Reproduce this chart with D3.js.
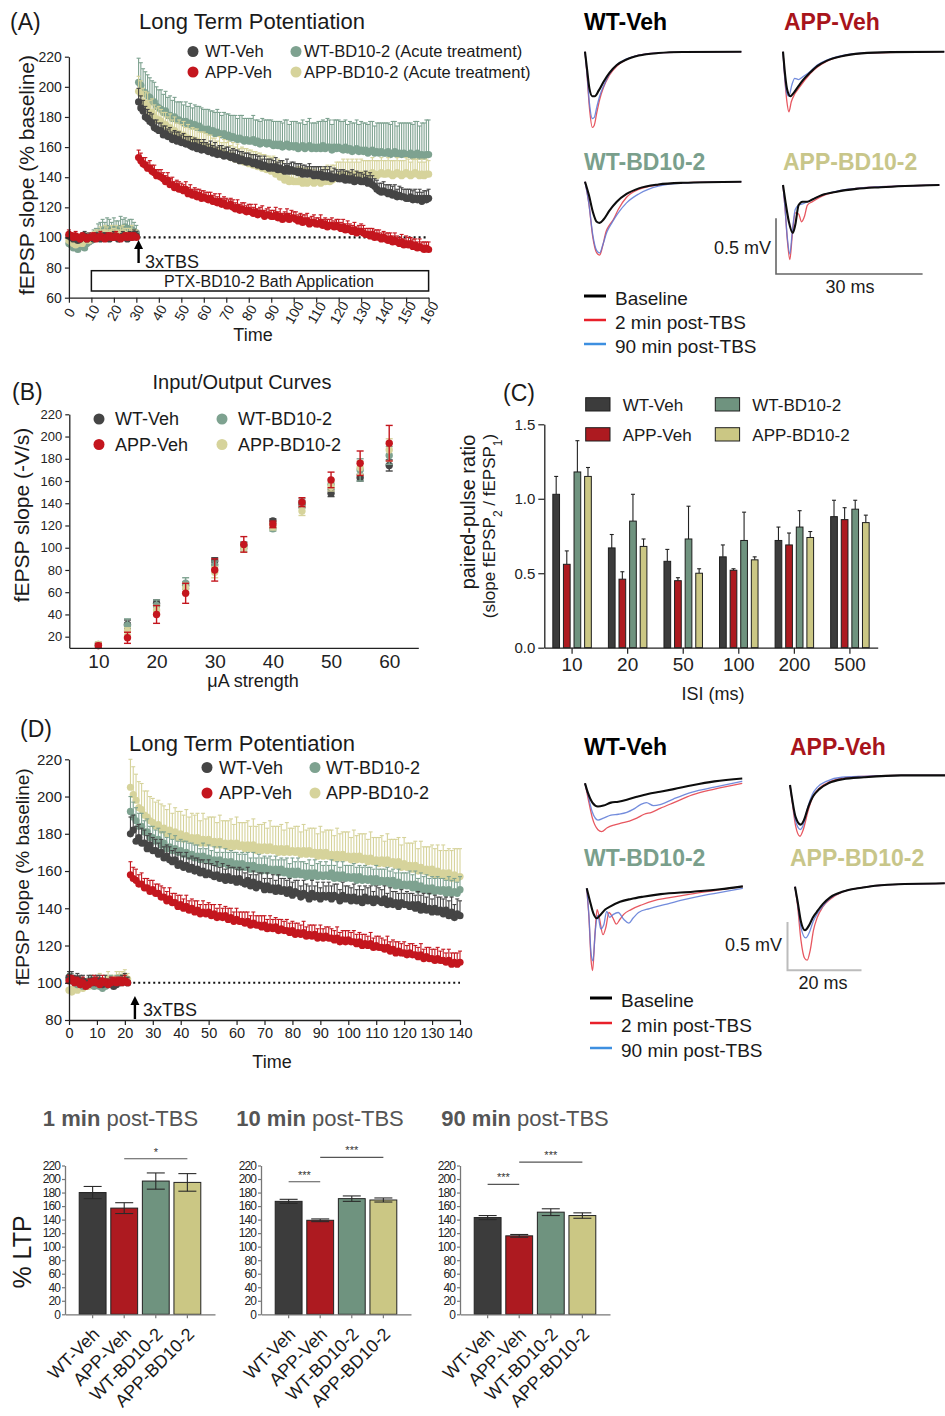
<!DOCTYPE html>
<html>
<head>
<meta charset="utf-8">
<script src="https://cdn.jsdelivr.net/npm/d3@7"></script>
<style>
  body { margin: 0; background: #fff; }
</style>
</head>
<body>
<svg id="fig" width="945" height="1416"></svg>
<script>
// ---------- data ----------
var groups = ["WT-Veh", "APP-Veh", "WT-BD10-2", "APP-BD10-2"];
var dotColors = ["#454545", "#c4161e", "#7ea290", "#d6d39b"];
var barColors = ["#3c3c3c", "#ad1a20", "#6f937f", "#cbc784"];

// (A) LTP, acute treatment, one point per minute
var timeA = d3.range(0, 161);
var ltpA_WTVeh = [101,100,99,100,98,99,100,101,99,100,100,99,101,100,99,100,101,100,99,100,101,100,99,100,101,100,99,101,100,102,101,
  190,186,184,180,179,177,176,173,172,171, 171,168,169,167,167,165,166,164,165,163, 163,162,162,161,160,161,159,160,158,159,
  158,157,158,156,157,155,156,155,154,155, 154,153,154,152,153,151,152,151,150,151, 150,149,150,148,149,147,148,147,146,147,
  146,147,145,146,145,144,146,144,145,144, 144,143,144,142,143,142,143,142,141,142, 141,142,140,141,140,141,139,140,140,139,
  139,140,138,139,138,139,137,138,138,137, 137,138,136,137,135,134,132,131,130,131, 130,129,130,128,129,127,128,127,127,126,
  126,127,125,126,125,126,124,126,125,126];
var ltpA_WTVehErr = [3,2,3,2,3,2,3,3,2,3,2,3,2,3,2,3,2,3,3,2,3,2,3,2,3,3,2,3,2,3,3,
  9,8,7,7,6,6,6,5,6,5, 5,6,5,5,6,5,5,6,5,5, 6,5,5,6,5,5,6,5,5,6, 5,5,6,5,6,5,5,6,5,5, 6,5,5,6,5,6,5,5,6,5,
  5,6,5,6,5,5,6,5,6,5, 5,6,5,5,6,5,6,5,5,6, 5,6,5,6,5,5,6,5,6,5, 6,5,5,6,5,6,5,6,5,5, 6,5,6,5,5,6,5,6,5,6,
  5,6,5,6,6,5,6,5,6,6, 5,6,5,6,6,5,6,6,5,6, 6,5,6,6,5,6,6,5,6,6];
var ltpA_APPVeh = [102,101,100,101,100,99,101,100,99,100,100,101,99,100,101,100,99,100,101,100,100,101,100,99,100,101,100,101,100,101,100,
  153,151,149,148,146,146,144,143,141,141, 140,139,137,138,135,135,133,134,132,132, 131,132,129,130,128,129,127,128,126,127,
  126,125,126,124,124,123,124,122,123,121, 121,122,120,119,120,118,119,118,117,118, 117,116,117,115,116,116,114,115,115,114,
  114,115,113,114,112,113,114,112,113,113, 112,111,112,110,111,111,109,110,110,109, 109,110,108,109,107,108,108,107,108,107,
  106,107,105,106,105,104,105,103,104,104, 103,102,102,101,102,100,101,100,99,100, 99,98,99,97,98,97,96,97,95,96,
  95,96,94,95,93,94,93,92,93,92];
var ltpA_APPVehErr = [3,2,3,3,2,3,2,2,3,2,3,2,3,2,3,2,2,3,2,3,2,3,2,3,2,2,3,2,3,2,2,
  5,5,4,5,4,5,4,5,4,4, 5,4,4,5,4,5,4,4,5,4, 4,5,4,5,4,4,5,4,5,4, 4,5,4,4,5,4,5,4,4,5, 4,4,5,4,5,4,4,5,4,4,
  5,4,5,4,4,5,4,4,5,4, 4,5,4,5,4,4,5,4,5,4, 5,4,4,5,4,5,4,4,5,4, 4,5,4,4,5,4,5,4,4,5, 4,5,4,5,4,4,5,4,4,5,
  5,4,4,5,4,5,4,5,4,4, 4,5,4,4,5,4,4,5,4,5, 5,4,5,4,4,5,4,5,4,5];
var ltpA_WTBD = [96,95,93,94,92,94,95,93,96,97,98,100,101,103,104,105,104,106,105,104,106,105,104,106,105,107,104,106,105,104,103,
  203,201,197,196,194,193,190,190,187,186, 185,183,184,181,181,179,180,178,178,177, 176,177,175,176,174,175,173,174,172,172,
  171,172,170,171,169,170,169,168,169,167, 168,166,167,166,165,166,165,164,165,164, 164,165,163,164,162,163,163,162,163,162,
  161,162,161,162,160,161,162,160,161,160, 161,159,160,161,159,160,161,159,160,159, 160,159,161,159,160,160,158,160,159,160,
  159,158,160,158,159,157,158,159,157,158, 157,158,156,157,158,156,157,156,157,156, 156,157,155,156,157,155,156,155,156,155,
  155,156,154,155,156,154,155,154,155,155];
var ltpA_WTBDErr = [4,4,4,4,5,4,4,5,4,4,4,5,5,6,6,7,6,7,7,6,7,6,7,8,7,6,7,6,7,6,5,
  16,15,15,14,14,13,14,13,13,12, 13,12,13,12,13,12,13,12,12,13, 12,13,12,13,12,13,14,13,14,13, 14,13,14,13,14,15,14,13,14,15,
  14,15,14,15,14,15,16,15,14,15, 15,16,15,14,15,16,15,16,15,16, 16,15,16,15,16,17,16,15,16,17, 16,17,16,17,16,17,18,17,16,17,
  17,18,17,18,19,18,17,18,19,18, 18,19,18,17,18,19,18,19,18,19, 19,18,19,20,19,18,19,20,19,20, 20,19,20,21,20,19,20,21,20,21,
  21,20,21,22,21,20,21,22,23,23];
var ltpA_APPBD = [98,97,96,95,96,97,96,98,99,98,99,100,100,101,102,101,103,102,101,103,102,103,101,102,103,102,101,102,103,101,101,
  197,195,190,189,187,183,183,180,178,178, 177,174,175,172,173,170,171,168,169,167, 168,165,166,164,165,163,164,161,162,161,
  161,159,160,157,158,156,158,155,156,155, 155,153,154,152,153,151,152,150,151,149, 150,148,149,147,148,146,147,145,146,144,
  145,142,143,140,141,138,139,137,138,137, 137,137,138,136,137,136,137,137,136,137, 137,136,137,137,138,137,138,139,140,141,
  141,142,141,142,141,142,141,142,141,142, 141,142,141,142,143,142,141,142,143,142, 142,143,142,141,142,143,142,141,142,143,
  142,141,142,143,142,141,142,141,142,142];
var ltpA_APPBDErr = [4,3,4,4,3,4,3,4,4,3,4,4,5,4,5,4,5,5,4,5,4,5,4,5,5,4,5,4,5,4,4,
  10,9,9,8,9,8,9,8,8,9, 8,9,8,8,9,8,9,8,9,8, 9,8,9,8,8,9,8,9,8,9, 8,9,8,9,8,8,9,8,9,8, 9,8,9,8,9,8,8,9,8,9,
  8,9,8,9,8,9,8,9,8,9, 9,8,9,8,9,9,8,9,8,9, 9,10,9,10,9,10,9,10,9,10, 10,9,10,9,10,9,10,9,10,9, 9,10,9,10,9,10,9,10,9,10,
  10,9,10,9,10,9,10,9,10,9, 9,10,9,10,9,10,9,10,9,10, 10,9,10,9,10,9,10,9,10,9];

// (B) input/output curves
var ioCurrent = [10,15,20,25,30,35,40,45,50,55,60];
var io_WTVeh = [12,31,50,66,88,102,124,139,149,163,174];
var io_WTVehErr = [2,4,3,3,3,3,2,3,3,3,5];
var io_APPVeh = [12,19,40,59,80,103,121,141,161,176,194];
var io_APPVehErr = [2,5,8,9,10,7,3,4,7,11,16];
var io_WTBD = [13,30,48,68,84,101,117,140,157,170,183];
var io_WTBDErr = [2,6,5,5,4,4,2,4,4,10,8];
var io_APPBD = [13,25,44,64,78,100,119,133,155,172,188];
var io_APPBDErr = [2,3,4,4,5,4,3,4,4,6,10];

// (C) paired-pulse ratio
var isi = ["10","20","50","100","200","500"];
var ppr_WTVeh = [1.03,0.67,0.58,0.61,0.72,0.88];
var ppr_WTVehErr = [0.12,0.09,0.08,0.08,0.09,0.11];
var ppr_APPVeh = [0.56,0.46,0.45,0.52,0.69,0.86];
var ppr_APPVehErr = [0.09,0.05,0.02,0.01,0.08,0.08];
var ppr_WTBD = [1.18,0.85,0.73,0.72,0.81,0.93];
var ppr_WTBDErr = [0.21,0.18,0.22,0.19,0.11,0.06];
var ppr_APPBD = [1.15,0.68,0.50,0.59,0.74,0.84];
var ppr_APPBDErr = [0.06,0.05,0.03,0.02,0.04,0.05];

// (D) LTP, chronic treatment
var timeD = d3.range(0, 141);
var ltpD_WTVeh = [103,102,101,102,100,101,99,100,101,100,100,101,99,100,99,100,98,99,100,101,101,100,
  180,182,176,178,175,175,172,174,171,171, 169,170,167,168,166,165,166,163,164,162, 163,161,162,160,161,159,160,158,159,158,
  157,158,156,157,155,157,155,156,154,156, 154,153,155,152,154,151,153,152,150,152, 150,151,149,151,149,150,148,150,147,149,
  148,146,148,147,145,148,146,147,145,147, 146,147,145,147,146,144,147,145,146,144, 146,144,145,143,146,144,145,143,145,144,
  143,145,142,144,142,143,141,143,142,142, 141,142,140,142,139,141,139,140,138,140, 138,139,137,139,136,138,135,137,136];
var ltpD_WTVehErr = [3,4,3,3,4,3,3,4,3,3,4,3,3,4,3,3,4,3,3,3,4,3,
  9,8,8,7,8,7,7,6,7,6, 6,7,6,6,7,6,6,7,6,6, 7,6,6,7,6,7,6,6,7,6, 6,7,6,7,6,6,7,6,7,6, 7,6,7,6,6,7,6,7,6,7,
  6,7,6,7,7,6,7,6,7,6, 7,6,7,6,7,7,6,7,6,7, 6,7,7,6,7,6,7,7,6,7, 7,6,7,7,6,7,7,6,7,7, 7,7,6,7,7,6,7,7,6,7,
  7,6,7,7,8,7,7,8,7,7, 8,7,8,7,8,8,7,8,8];
var ltpD_APPVeh = [101,102,100,101,99,100,98,99,100,101,100,99,101,100,99,100,101,100,101,100,101,100,
  158,156,155,153,153,151,151,149,150,148, 148,146,146,144,145,143,143,141,142,140, 141,139,140,138,139,137,138,137,138,136,
  137,135,136,135,136,134,135,133,134,133, 133,132,133,131,132,131,131,130,131,129, 130,129,130,128,129,128,128,127,128,126,
  127,126,127,125,126,125,126,124,125,124, 125,124,124,123,124,122,123,122,123,122, 122,121,122,120,121,120,121,119,120,119,
  119,118,119,117,118,116,117,116,116,115, 116,115,115,114,115,113,114,113,113,112, 113,112,112,111,112,110,111,110,111];
var ltpD_APPVehErr = [3,2,3,2,3,3,2,3,2,3,3,2,3,2,3,3,2,3,2,3,3,2,
  7,6,6,5,6,5,5,6,5,5, 5,6,5,5,6,5,5,6,5,5, 6,5,5,6,5,5,6,5,5,6, 5,5,6,5,5,6,5,5,6,5, 5,6,5,5,6,5,5,6,5,5,
  6,5,5,6,5,5,6,5,5,6, 5,5,6,5,5,6,5,5,6,5, 5,6,5,5,6,5,5,6,5,5, 6,5,5,6,5,5,6,5,5,6, 5,5,6,5,5,6,5,5,6,5,
  5,6,5,5,6,5,5,6,5,6, 6,5,6,5,6,6,5,6,6];
var ltpD_WTBD = [102,101,100,99,100,98,99,100,99,98,99,98,97,98,99,100,99,100,101,100,101,100,
  192,189,187,184,184,181,181,178,178,176, 177,174,175,172,173,171,172,170,171,169, 170,168,169,167,168,166,168,166,167,165,
  166,164,166,164,165,163,165,163,164,162, 164,162,163,161,163,161,162,160,162,160, 161,160,161,159,161,159,160,158,160,158,
  160,158,159,157,159,157,159,157,158,157, 158,157,159,156,158,156,158,156,157,156, 157,155,157,155,156,155,156,154,156,154,
  155,154,155,153,155,152,154,152,153,152, 153,151,153,150,152,150,151,149,151,149, 150,149,150,148,150,148,149,148,150];
var ltpD_WTBDErr = [3,4,3,4,3,4,3,3,4,3,4,3,4,3,3,4,3,4,3,4,4,3,
  8,8,7,7,7,6,7,6,6,6, 6,7,6,6,7,6,7,6,6,7, 6,7,6,7,6,6,7,6,7,6, 7,6,7,6,7,7,6,7,6,7, 6,7,7,6,7,6,7,7,6,7,
  7,6,7,7,6,7,7,6,7,7, 7,7,6,7,7,6,7,7,7,6, 7,6,7,7,7,6,7,7,6,7, 7,7,6,7,7,7,6,7,7,7, 6,7,7,7,6,7,7,7,6,7,
  7,7,7,6,7,7,7,7,6,7, 7,7,6,7,7,7,7,6,7];
var ltpD_APPBD = [96,95,97,96,98,97,99,98,100,99,100,101,99,100,102,101,100,102,103,102,103,102,
  205,201,198,194,193,190,189,187,186,184, 185,182,183,180,182,179,181,178,180,177, 179,177,178,176,178,175,177,175,177,175,
  176,174,176,174,175,173,175,173,175,173, 174,172,174,172,174,171,173,171,173,171, 173,171,172,170,172,170,172,170,171,170,
  171,169,171,169,171,169,170,168,170,168, 170,168,169,167,169,167,169,167,168,166, 168,166,168,166,167,165,167,165,166,164,
  166,164,166,164,165,163,165,162,164,162, 163,161,163,160,162,160,161,159,161,158, 160,158,159,157,159,156,158,156,157];
var ltpD_APPBDErr = [4,3,4,4,3,4,3,4,4,3,4,4,3,4,4,3,4,4,3,4,4,3,
  15,15,14,14,14,13,14,13,13,13, 13,14,12,13,14,12,13,14,12,13, 14,12,13,14,13,12,14,13,12,14, 13,12,14,13,12,14,13,12,14,13,
  12,14,13,12,14,13,12,14,13,12, 14,13,12,14,13,12,14,13,12,14, 13,12,14,13,12,14,13,12,14,13, 12,14,13,12,14,13,12,14,13,12,
  14,13,12,14,13,12,14,13,12,14, 13,12,14,13,12,14,13,12,14,13, 12,14,13,12,14,13,12,14,13,14, 14,13,15,14,13,15,14,16,15];

// bottom: % LTP at 1, 10 and 90 min post-TBS
var ltp1min = [180,157,197,195];
var ltp1minErr = [9,8,12,13];
var ltp10min = [167,139,171,169];
var ltp10minErr = [3,2,4,3];
var ltp90min = [143,116,151,146];
var ltp90minErr = [3,2,5,4];

// representative fEPSP traces, [ms, mV]
var trA_WTVeh = {
  base: [[0,0],[0.4,-0.15],[0.9,-0.33],[1.5,-0.40],[2.0,-0.40],[2.8,-0.35],[3.8,-0.27],[5,-0.19],[6.5,-0.12],[8.5,-0.07],[11,-0.035],[15,-0.012],[20,-0.003],[32,0]],
  red:  [[0,0],[0.4,-0.2],[0.9,-0.5],[1.5,-0.68],[1.9,-0.66],[2.4,-0.55],[3.0,-0.43],[3.8,-0.32],[5,-0.21],[6.5,-0.13],[8.5,-0.07],[11,-0.03],[15,-0.01],[32,0]],
  blue: [[0,0],[0.4,-0.19],[0.9,-0.46],[1.5,-0.60],[1.9,-0.59],[2.4,-0.50],[3.0,-0.40],[3.8,-0.31],[5,-0.20],[6.5,-0.12],[8.5,-0.065],[11,-0.03],[15,-0.01],[32,0]]
};
var trA_APPVeh = {
  base: [[0,0],[0.3,-0.15],[0.8,-0.33],[1.5,-0.40],[2.2,-0.37],[3,-0.32],[4,-0.26],[5.5,-0.19],[7,-0.13],[9,-0.08],[12,-0.04],[16,-0.015],[22,-0.004],[33,0]],
  red:  [[0,0],[0.3,-0.2],[0.8,-0.45],[1.2,-0.54],[1.7,-0.45],[2.4,-0.38],[3.2,-0.33],[4.2,-0.27],[5.5,-0.2],[7,-0.14],[9,-0.085],[12,-0.04],[16,-0.015],[33,0]],
  blue: [[0,0],[0.3,-0.2],[0.8,-0.38],[1.2,-0.40],[1.8,-0.30],[2.4,-0.24],[3.2,-0.25],[4.2,-0.22],[5.5,-0.18],[7,-0.12],[9,-0.075],[12,-0.035],[16,-0.012],[33,0]]
};
var trA_WTBD = {
  base: [[0,0],[0.8,-0.12],[1.6,-0.27],[2.4,-0.36],[3.0,-0.37],[3.8,-0.34],[5,-0.26],[6.5,-0.18],[8.5,-0.11],[11,-0.06],[15,-0.025],[20,-0.01],[32,0]],
  red:  [[0,0],[0.8,-0.2],[1.6,-0.5],[2.4,-0.64],[3.0,-0.66],[3.6,-0.58],[4.3,-0.45],[5,-0.39],[5.8,-0.34],[6.8,-0.25],[8.5,-0.14],[11,-0.07],[15,-0.03],[20,-0.01],[32,0]],
  blue: [[0,0],[0.8,-0.2],[1.6,-0.48],[2.4,-0.62],[3.0,-0.64],[3.7,-0.56],[4.5,-0.45],[5.5,-0.37],[6.8,-0.28],[8.5,-0.19],[11,-0.11],[15,-0.04],[20,-0.012],[32,0]]
};
var trA_APPBD = {
  base: [[0,0],[0.5,-0.15],[1.2,-0.33],[2.0,-0.43],[2.5,-0.36],[3.2,-0.18],[4,-0.15],[5,-0.15],[6,-0.13],[8,-0.09],[11,-0.06],[15,-0.035],[20,-0.02],[32,0]],
  red:  [[0,0],[0.4,-0.2],[0.9,-0.5],[1.4,-0.67],[1.9,-0.45],[2.5,-0.25],[3.2,-0.26],[3.8,-0.33],[4.4,-0.28],[5,-0.18],[6,-0.15],[8,-0.10],[11,-0.06],[15,-0.03],[32,0]],
  blue: [[0,0],[0.4,-0.2],[0.9,-0.48],[1.4,-0.62],[1.9,-0.42],[2.5,-0.22],[3.2,-0.18],[4,-0.17],[5,-0.15],[6,-0.13],[8,-0.09],[11,-0.055],[15,-0.03],[32,0]]
};
var trD_WTVeh = {
  base: [[0,0],[0.8,-0.1],[2,-0.2],[3.5,-0.24],[5,-0.23],[7,-0.2],[9,-0.19],[11.3,-0.17],[14,-0.14],[17,-0.11],[20.3,-0.087],[24,-0.06],[29,-0.02],[35,0.02],[42.5,0.05]],
  red:  [[0,0],[0.8,-0.15],[2,-0.36],[3.5,-0.48],[4.5,-0.5],[6,-0.46],[8,-0.43],[10,-0.41],[12,-0.39],[14,-0.36],[16,-0.32],[18,-0.30],[20.3,-0.26],[24,-0.2],[29,-0.12],[35,-0.06],[42.5,0.0]],
  blue: [[0,0],[0.8,-0.12],[2,-0.3],[3.5,-0.38],[5,-0.36],[7,-0.33],[9,-0.32],[11.3,-0.30],[13,-0.27],[15,-0.22],[16.6,-0.2],[18.5,-0.23],[20.3,-0.22],[24,-0.16],[29,-0.09],[35,-0.04],[42.5,0.02]]
};
var trD_APPVeh = {
  base: [[0,0],[0.6,-0.15],[1.5,-0.33],[2.9,-0.41],[3.8,-0.36],[5,-0.22],[6.2,-0.12],[8,-0.04],[10.5,0.02],[14.3,0.06],[20,0.08],[30,0.1],[41.9,0.1]],
  red:  [[0,0],[0.6,-0.18],[1.5,-0.42],[2.7,-0.53],[3.6,-0.46],[4.8,-0.28],[6.2,-0.12],[8,-0.03],[10.5,0.03],[14.3,0.07],[20,0.09],[30,0.1],[41.9,0.1]],
  blue: [[0,0],[0.6,-0.16],[1.5,-0.37],[2.8,-0.46],[3.7,-0.40],[4.8,-0.23],[6,-0.1],[7.5,-0.02],[10,0.04],[14,0.08],[20,0.09],[30,0.1],[41.9,0.1]]
};
var trD_WTBD = {
  base: [[0,0],[0.8,-0.12],[1.8,-0.26],[2.7,-0.31],[3.8,-0.27],[5,-0.22],[6.3,-0.19],[9,-0.14],[12,-0.11],[15.2,-0.087],[20,-0.06],[28.7,-0.035],[36,-0.01],[42.2,0.02]],
  red:  [[0,0],[0.6,-0.3],[1.2,-0.75],[1.6,-0.85],[2.2,-0.5],[2.8,-0.22],[3.4,-0.30],[4.4,-0.48],[5.2,-0.40],[6,-0.25],[7,-0.30],[8,-0.37],[9,-0.32],[10,-0.27],[12,-0.22],[15,-0.17],[18,-0.13],[22,-0.1],[28,-0.06],[35,-0.02],[42.2,0.02]],
  blue: [[0,0],[0.6,-0.28],[1.2,-0.68],[1.7,-0.75],[2.3,-0.45],[3,-0.28],[3.8,-0.42],[4.6,-0.38],[5.4,-0.24],[6.2,-0.3],[7.2,-0.27],[8.5,-0.25],[10,-0.32],[11.4,-0.36],[12.5,-0.31],[14,-0.25],[17,-0.21],[21,-0.17],[26,-0.12],[32,-0.07],[38,-0.03],[42.2,0.0]]
};
var trD_APPBD = {
  base: [[0,0],[0.7,-0.15],[1.6,-0.36],[2.7,-0.45],[3.8,-0.40],[4.8,-0.32],[5.9,-0.26],[7.5,-0.18],[9.5,-0.11],[13,-0.05],[18,-0.01],[25,0.02],[40.5,0.035]],
  red:  [[0,0],[0.7,-0.2],[1.6,-0.55],[2.6,-0.74],[3.3,-0.76],[4.1,-0.66],[5,-0.45],[6,-0.32],[7.5,-0.21],[9.5,-0.13],[13,-0.05],[18,-0.01],[25,0.02],[40.5,0.035]],
  blue: [[0,0],[0.7,-0.17],[1.6,-0.42],[2.9,-0.53],[3.9,-0.47],[4.9,-0.36],[6,-0.28],[7.5,-0.2],[9.5,-0.12],[13,-0.05],[18,-0.01],[25,0.02],[40.5,0.035]]
};
var traceLegend = ["Baseline", "2 min post-TBS", "90 min post-TBS"];

// ---------- helpers ----------
var FONT = "'Liberation Sans', Arial, Helvetica, sans-serif";
var svg = d3.select("#fig");

function label(x, y, s, size, o) {
  o = o || {};
  var t = svg.append("text")
    .attr("x", x).attr("y", y).attr("dy", "0.35em")
    .attr("font-size", size).attr("font-family", FONT)
    .attr("text-anchor", o.anchor || "start")
    .attr("fill", o.fill || "#1a1a1a")
    .text(s);
  if (o.bold) t.attr("font-weight", "bold");
  if (o.rotate) t.attr("transform", "rotate(" + o.rotate + "," + x + "," + y + ")");
  return t;
}

function styleAxis(g, fs) {
  g.attr("font-family", FONT).attr("font-size", fs);
  g.select(".domain").attr("stroke", "#222").attr("stroke-width", 1.3);
  g.selectAll(".tick line").attr("stroke", "#222").attr("stroke-width", 1.2);
  g.selectAll(".tick text").attr("fill", "#222");
}

function drawLtp(p) {
  var x = d3.scaleLinear().domain(p.xDomain).range(p.xRange);
  var y = d3.scaleLinear().domain(p.yDomain).range(p.yRange);
  var g = svg.append("g");
  g.append("line")
    .attr("x1", x(p.refFrom)).attr("x2", x(p.xDomain[1]))
    .attr("y1", y(100)).attr("y2", y(100))
    .attr("stroke", "#111").attr("stroke-width", 2.2).attr("stroke-dasharray", "2,3");

  p.series.forEach(function(s) {
    var pts = s.mean.map(function(v, i) { return {t: p.time[i], v: v, e: s.err[i]}; });
    var sg = g.append("g");
    sg.selectAll(".eb").data(pts).enter().append("line")
      .attr("x1", function(d) { return x(d.t); })
      .attr("x2", function(d) { return x(d.t); })
      .attr("y1", function(d) { return y(d.v); })
      .attr("y2", function(d) { return y(d.v + d.e); })
      .attr("stroke", s.color).attr("stroke-width", 1.1);
    sg.selectAll(".cap").data(pts).enter().append("line")
      .attr("x1", function(d) { return x(d.t) - 2; })
      .attr("x2", function(d) { return x(d.t) + 2; })
      .attr("y1", function(d) { return y(d.v + d.e); })
      .attr("y2", function(d) { return y(d.v + d.e); })
      .attr("stroke", s.color).attr("stroke-width", 1.1);
    sg.selectAll("circle").data(pts).enter().append("circle")
      .attr("cx", function(d) { return x(d.t); })
      .attr("cy", function(d) { return y(d.v); })
      .attr("r", 3.6)
      .attr("fill", s.color);
  });

  var ya = g.append("g").attr("transform", "translate(" + p.xRange[0] + ",0)")
    .call(d3.axisLeft(y).tickValues(p.yTicks).tickSize(4).tickSizeOuter(0));
  styleAxis(ya, p.yFont);
  var xa = g.append("g").attr("transform", "translate(0," + p.yRange[0] + ")")
    .call(d3.axisBottom(x).tickValues(p.xTicks).tickSize(5).tickSizeOuter(0));
  styleAxis(xa, p.xFont);
  if (p.rotateX) {
    xa.selectAll(".tick text")
      .attr("y", 0).attr("dy", "0.35em")
      .attr("text-anchor", "middle")
      .attr("transform", "translate(0,15) rotate(-60)");
  }
  return {x: x, y: y};
}

function drawArrow(x, yBase, yTip) {
  svg.append("line").attr("x1", x).attr("x2", x).attr("y1", yBase).attr("y2", yTip + 6)
    .attr("stroke", "#000").attr("stroke-width", 2.4);
  svg.append("path")
    .attr("d", "M" + (x - 4.5) + "," + (yTip + 9) + "L" + x + "," + yTip + "L" + (x + 4.5) + "," + (yTip + 9) + "Z")
    .attr("fill", "#000");
}

function drawTrace(ox, oy, pxMs, pxMv, tr) {
  var x = d3.scaleLinear().domain([0, 1]).range([ox, ox + pxMs]);
  var y = d3.scaleLinear().domain([0, 1]).range([oy, oy - pxMv]);
  var line = d3.line()
    .x(function(d) { return x(d[0]); })
    .y(function(d) { return y(d[1]); })
    .curve(d3.curveMonotoneX);
  [["red", "#e33a44", 1.3, 0.85], ["blue", "#5b78d6", 1.3, 0.85], ["base", "#0d0d0d", 2.1, 1]].forEach(function(c) {
    svg.append("path").attr("d", line(tr[c[0]]))
      .attr("fill", "none").attr("stroke", c[1]).attr("stroke-width", c[2])
      .attr("stroke-opacity", c[3]).attr("stroke-linejoin", "round");
  });
}

function traceLegendBlock(x0, y0, dy, fs) {
  var cols = ["#000", "#e8202a", "#3d8fe0"];
  traceLegend.forEach(function(s, i) {
    svg.append("line").attr("x1", x0).attr("x2", x0 + 22)
      .attr("y1", y0 + i * dy).attr("y2", y0 + i * dy)
      .attr("stroke", cols[i]).attr("stroke-width", i === 0 ? 3 : 2.5);
    label(x0 + 31, y0 + i * dy + 2, s, fs);
  });
}

function dotLegend(items, fs, r) {
  items.forEach(function(it) {
    svg.append("circle").attr("cx", it[0]).attr("cy", it[1]).attr("r", r).attr("fill", it[3]);
    label(it[0] + it[4], it[1], it[2], fs);
  });
}

// ---------- (A) ----------
label(10, 22, "(A)", 23);
label(252, 21, "Long Term Potentiation", 22, {anchor: "middle"});
var pA = drawLtp({
  time: timeA, xDomain: [0, 160], xRange: [68.9, 428.6], yDomain: [60, 220], yRange: [297.7, 56.7],
  yTicks: d3.range(60, 221, 20), xTicks: d3.range(0, 161, 10), yFont: 14, xFont: 14, rotateX: true, refFrom: 31,
  series: [
    {mean: ltpA_WTBD, err: ltpA_WTBDErr, color: dotColors[2]},
    {mean: ltpA_APPBD, err: ltpA_APPBDErr, color: dotColors[3]},
    {mean: ltpA_WTVeh, err: ltpA_WTVehErr, color: dotColors[0]},
    {mean: ltpA_APPVeh, err: ltpA_APPVehErr, color: dotColors[1]}
  ]
});
svg.append("rect")
  .attr("x", pA.x(10)).attr("y", 270.7).attr("width", pA.x(160) - pA.x(10)).attr("height", 20.3)
  .attr("fill", "none").attr("stroke", "#111").attr("stroke-width", 1.5);
label(269, 281.5, "PTX-BD10-2 Bath Application", 16, {anchor: "middle"});
drawArrow(pA.x(31), 263, 240);
label(145, 262, "3xTBS", 18);
label(253, 335, "Time", 18, {anchor: "middle"});
label(27, 175, "fEPSP slope (% baseline)", 21, {anchor: "middle", rotate: -90});
dotLegend([
  [193, 51.5, "WT-Veh", dotColors[0], 12],
  [193, 72, "APP-Veh", dotColors[1], 12],
  [296, 51.5, "WT-BD10-2 (Acute treatment)", dotColors[2], 8],
  [296, 72, "APP-BD10-2 (Acute treatment)", dotColors[3], 8]
], 16.5, 5.5);

// traces for (A)
label(584, 21.5, "WT-Veh", 23, {bold: true, fill: "#000"});
label(784, 21.5, "APP-Veh", 23, {bold: true, fill: "#a8141b"});
label(584, 161.5, "WT-BD10-2", 23, {bold: true, fill: "#7a9f8c"});
label(783, 161.5, "APP-BD10-2", 23, {bold: true, fill: "#c8c68a"});
drawTrace(585, 51.7, 4.887, 111.3, trA_WTVeh);
drawTrace(783, 51.7, 4.887, 111.3, trA_APPVeh);
drawTrace(585, 181.7, 4.887, 111.3, trA_WTBD);
drawTrace(783, 185, 4.887, 111.3, trA_APPBD);
svg.append("path").attr("d", "M776,218.3V274H922.6")
  .attr("fill", "none").attr("stroke", "#666").attr("stroke-width", 1.6);
label(771, 248, "0.5 mV", 18, {anchor: "end"});
label(850, 287, "30 ms", 18, {anchor: "middle"});
traceLegendBlock(584, 296, 24, 19);

// ---------- (B) ----------
label(12, 392, "(B)", 23);
label(242, 382, "Input/Output Curves", 20, {anchor: "middle"});
(function() {
  var x = d3.scaleLinear().domain([5, 65]).range([69.3, 418.3]);
  var y = d3.scaleLinear().domain([10, 220]).range([647.8, 414.3]);
  var g = svg.append("g");
  var sets = [
    {m: io_WTVeh, e: io_WTVehErr, c: dotColors[0]},
    {m: io_WTBD, e: io_WTBDErr, c: dotColors[2]},
    {m: io_APPBD, e: io_APPBDErr, c: dotColors[3]},
    {m: io_APPVeh, e: io_APPVehErr, c: dotColors[1]}
  ];
  sets.forEach(function(s) {
    var pts = s.m.map(function(v, i) { return {x: ioCurrent[i], v: v, e: s.e[i]}; });
    var sg = g.append("g").attr("stroke", s.c).attr("stroke-width", 1.4);
    sg.selectAll(".eb").data(pts).enter().append("line")
      .attr("x1", function(d) { return x(d.x); }).attr("x2", function(d) { return x(d.x); })
      .attr("y1", function(d) { return y(d.v - d.e); }).attr("y2", function(d) { return y(d.v + d.e); });
    [-1, 1].forEach(function(sgn) {
      sg.selectAll(".cap" + sgn).data(pts).enter().append("line")
        .attr("x1", function(d) { return x(d.x) - 3.5; }).attr("x2", function(d) { return x(d.x) + 3.5; })
        .attr("y1", function(d) { return y(d.v + sgn * d.e); }).attr("y2", function(d) { return y(d.v + sgn * d.e); });
    });
    g.append("g").selectAll("circle").data(pts).enter().append("circle")
      .attr("cx", function(d) { return x(d.x); }).attr("cy", function(d) { return y(d.v); })
      .attr("r", 3.7).attr("fill", s.c);
  });
  var ya = g.append("g").attr("transform", "translate(69.3,0)")
    .call(d3.axisLeft(y).tickValues(d3.range(20, 221, 20)).tickSize(4).tickSizeOuter(0));
  styleAxis(ya, 13);
  var xa = g.append("g").attr("transform", "translate(0,647.8)")
    .call(d3.axisBottom(x).tickValues(d3.range(10, 61, 10)).tickSize(0).tickPadding(7).tickSizeOuter(0));
  styleAxis(xa, 19);
})();
label(253, 681, "μA strength", 18, {anchor: "middle"});
label(22, 515, "fEPSP slope (-V/s)", 21, {anchor: "middle", rotate: -90});
dotLegend([
  [99, 419, "WT-Veh", dotColors[0], 16],
  [99, 444.5, "APP-Veh", dotColors[1], 16],
  [222, 419, "WT-BD10-2", dotColors[2], 16],
  [222, 444.5, "APP-BD10-2", dotColors[3], 16]
], 18, 5.5);

// ---------- (C) ----------
label(503, 393, "(C)", 23);
(function() {
  var x = d3.scaleBand().domain(isi).range([544.3, 877.7]);
  var xs = d3.scaleBand().domain(groups).range([-19.25, 19.25]).paddingInner(0.368);
  var y = d3.scaleLinear().domain([0, 1.5]).range([647.7, 424.3]);
  var g = svg.append("g");
  var sets = [
    {m: ppr_WTVeh, e: ppr_WTVehErr},
    {m: ppr_APPVeh, e: ppr_APPVehErr},
    {m: ppr_WTBD, e: ppr_WTBDErr},
    {m: ppr_APPBD, e: ppr_APPBDErr}
  ];
  sets.forEach(function(s, gi) {
    var pts = s.m.map(function(v, i) {
      return {cx: x(isi[i]) + x.bandwidth() / 2 + xs(groups[gi]) + xs.bandwidth() / 2, v: v, e: s.e[i]};
    });
    g.append("g").selectAll("line").data(pts).enter().append("line")
      .attr("x1", function(d) { return d.cx; }).attr("x2", function(d) { return d.cx; })
      .attr("y1", function(d) { return y(d.v); }).attr("y2", function(d) { return y(d.v + d.e); })
      .attr("stroke", "#222").attr("stroke-width", 1.1);
    g.append("g").selectAll("line").data(pts).enter().append("line")
      .attr("x1", function(d) { return d.cx - 2; }).attr("x2", function(d) { return d.cx + 2; })
      .attr("y1", function(d) { return y(d.v + d.e); }).attr("y2", function(d) { return y(d.v + d.e); })
      .attr("stroke", "#222").attr("stroke-width", 1.1);
    g.append("g").selectAll("rect").data(pts).enter().append("rect")
      .attr("x", function(d) { return d.cx - xs.bandwidth() / 2; })
      .attr("width", xs.bandwidth())
      .attr("y", function(d) { return y(d.v); })
      .attr("height", function(d) { return y(0) - y(d.v); })
      .attr("fill", barColors[gi]).attr("stroke", "#1e1e1e").attr("stroke-width", 1);
  });
  var ya = g.append("g").attr("transform", "translate(544.3,0)")
    .call(d3.axisLeft(y).tickValues([0, 0.5, 1.0, 1.5]).tickFormat(d3.format(".1f")).tickSize(6).tickSizeOuter(0));
  styleAxis(ya, 15);
  var xa = g.append("g").attr("transform", "translate(0,647.7)")
    .call(d3.axisBottom(x).tickSize(6).tickPadding(4).tickSizeOuter(0));
  styleAxis(xa, 19);
  var leg = [[585.7, 397.7, 0], [585.7, 427.7, 1], [715.3, 397.7, 2], [715.3, 427.7, 3]];
  leg.forEach(function(l) {
    svg.append("rect").attr("x", l[0]).attr("y", l[1]).attr("width", 24.3).attr("height", 13.3)
      .attr("fill", barColors[l[2]]).attr("stroke", "#1e1e1e").attr("stroke-width", 1);
    label(l[0] + 37, l[1] + 7, groups[l[2]], 17);
  });
})();
label(713, 694, "ISI (ms)", 18, {anchor: "middle"});
label(468, 512, "paired-pulse ratio", 20, {anchor: "middle", rotate: -90});
(function() {
  var t = svg.append("text").attr("x", 489).attr("y", 526).attr("dy", "0.35em")
    .attr("font-size", 17).attr("font-family", FONT).attr("text-anchor", "middle").attr("fill", "#1a1a1a")
    .attr("transform", "rotate(-90,489,526)");
  t.append("tspan").text("(slope fEPSP");
  t.append("tspan").attr("baseline-shift", "sub").attr("font-size", 12).text("2");
  t.append("tspan").text(" / fEPSP");
  t.append("tspan").attr("baseline-shift", "sub").attr("font-size", 12).text("1");
  t.append("tspan").text(")");
})();

// ---------- (D) ----------
label(20, 729, "(D)", 23);
label(242, 743, "Long Term Potentiation", 22, {anchor: "middle"});
var pD = drawLtp({
  time: timeD, xDomain: [0, 140], xRange: [69, 460], yDomain: [80, 220], yRange: [1020, 759.3],
  yTicks: d3.range(80, 221, 20), xTicks: d3.range(0, 141, 10), yFont: 15, xFont: 14.5, rotateX: false, refFrom: 23,
  series: [
    {mean: ltpD_APPBD, err: ltpD_APPBDErr, color: dotColors[3]},
    {mean: ltpD_WTBD, err: ltpD_WTBDErr, color: dotColors[2]},
    {mean: ltpD_WTVeh, err: ltpD_WTVehErr, color: dotColors[0]},
    {mean: ltpD_APPVeh, err: ltpD_APPVehErr, color: dotColors[1]}
  ]
});
drawArrow(pD.x(23.6), 1019, 996);
label(143, 1010, "3xTBS", 18);
label(272, 1062, "Time", 18, {anchor: "middle"});
label(22, 877, "fEPSP slope (% baseline)", 19, {anchor: "middle", rotate: -90});
dotLegend([
  [207, 767.5, "WT-Veh", dotColors[0], 12],
  [207, 793, "APP-Veh", dotColors[1], 12],
  [315, 767.5, "WT-BD10-2", dotColors[2], 11],
  [315, 793, "APP-BD10-2", dotColors[3], 11]
], 18, 5.5);

// traces for (D)
label(584, 746.7, "WT-Veh", 23, {bold: true, fill: "#000"});
label(790, 746.7, "APP-Veh", 23, {bold: true, fill: "#a8141b"});
label(584, 858.3, "WT-BD10-2", 23, {bold: true, fill: "#7a9f8c"});
label(790, 858.3, "APP-BD10-2", 23, {bold: true, fill: "#c8c68a"});
drawTrace(585, 783.3, 3.7, 96.7, trD_WTVeh);
drawTrace(790, 785, 3.7, 96.7, trD_APPVeh);
drawTrace(586.7, 888.3, 3.7, 96.7, trD_WTBD);
drawTrace(795, 886.7, 3.7, 96.7, trD_APPBD);
svg.append("path").attr("d", "M787.5,922V970.3H861.5")
  .attr("fill", "none").attr("stroke", "#bcbcbc").attr("stroke-width", 2);
label(782, 945, "0.5 mV", 18, {anchor: "end"});
label(823, 983, "20 ms", 18, {anchor: "middle"});
traceLegendBlock(590, 998, 25, 19);

// ---------- bottom bar charts ----------
function drawLtpBars(p) {
  var x = d3.scaleBand().domain(groups).range([p.x0, p.x0 + 150]).paddingInner(0.15).paddingOuter(0.45);
  var y = d3.scaleLinear().domain([0, 220]).range([1314.3, 1165.5]);
  var g = svg.append("g");
  var pts = p.vals.map(function(v, i) { return {k: groups[i], v: v, e: p.errs[i], c: barColors[i]}; });
  g.selectAll("rect").data(pts).enter().append("rect")
    .attr("x", function(d) { return x(d.k); }).attr("width", x.bandwidth())
    .attr("y", function(d) { return y(d.v); })
    .attr("height", function(d) { return y(0) - y(d.v); })
    .attr("fill", function(d) { return d.c; })
    .attr("stroke", "#222").attr("stroke-width", 1);
  var cx = function(d) { return x(d.k) + x.bandwidth() / 2; };
  g.selectAll(".eb").data(pts).enter().append("line")
    .attr("x1", cx).attr("x2", cx)
    .attr("y1", function(d) { return y(d.v - d.e); }).attr("y2", function(d) { return y(d.v + d.e); })
    .attr("stroke", "#2a2a2a").attr("stroke-width", 1.1);
  [-1, 1].forEach(function(sgn) {
    g.selectAll(".cap" + sgn).data(pts).enter().append("line")
      .attr("x1", function(d) { return cx(d) - 9; }).attr("x2", function(d) { return cx(d) + 9; })
      .attr("y1", function(d) { return y(d.v + sgn * d.e); }).attr("y2", function(d) { return y(d.v + sgn * d.e); })
      .attr("stroke", "#2a2a2a").attr("stroke-width", 1.1);
  });
  var ya = g.append("g").attr("transform", "translate(" + p.x0 + ",0)")
    .call(d3.axisLeft(y).tickValues(d3.range(0, 221, 20)).tickSize(3).tickPadding(2).tickSizeOuter(0));
  styleAxis(ya, 12);
  ya.selectAll(".tick text").attr("letter-spacing", "-0.9");
  ya.select(".domain").attr("stroke", "#777");
  ya.selectAll(".tick line").attr("stroke", "#777");
  var xa = g.append("g").attr("transform", "translate(0," + y(0) + ")")
    .call(d3.axisBottom(x).tickSize(4).tickFormat("").tickSizeOuter(0));
  styleAxis(xa, 11);
  xa.select(".domain").attr("stroke", "#777");
  xa.selectAll(".tick line").attr("stroke", "#777");
  groups.forEach(function(k) {
    var px = x(k) + x.bandwidth() / 2 + 8, py = y(0) + 21;
    svg.append("text").attr("x", 0).attr("y", 0)
      .attr("transform", "translate(" + px + "," + py + ") rotate(-45)")
      .attr("text-anchor", "end").attr("font-size", 18).attr("font-family", FONT).attr("fill", "#1a1a1a")
      .text(k);
  });
  p.sig.forEach(function(s) {
    var a = x(s[0]) + x.bandwidth() / 2, b = x(s[1]) + x.bandwidth() / 2;
    svg.append("line").attr("x1", a).attr("x2", b).attr("y1", y(s[2])).attr("y2", y(s[2]))
      .attr("stroke", "#555").attr("stroke-width", 1.2);
    svg.append("text").attr("x", (a + b) / 2).attr("y", y(s[2]) - 3)
      .attr("text-anchor", "middle").attr("font-size", 11).attr("font-family", FONT).attr("fill", "#333")
      .text(s[3]);
  });
  var t = svg.append("text").attr("x", p.titleX).attr("y", 1118).attr("dy", "0.35em")
    .attr("text-anchor", "middle").attr("font-size", 22).attr("font-family", FONT).attr("fill", "#555");
  t.append("tspan").attr("font-weight", "bold").text(p.titleBold);
  t.append("tspan").text(" post-TBS");
}

drawLtpBars({x0: 65, vals: ltp1min, errs: ltp1minErr, titleX: 120.5, titleBold: "1 min",
  sig: [["APP-Veh", "APP-BD10-2", 230, "*"]]});
drawLtpBars({x0: 261, vals: ltp10min, errs: ltp10minErr, titleX: 320, titleBold: "10 min",
  sig: [["WT-Veh", "APP-Veh", 196, "***"], ["APP-Veh", "APP-BD10-2", 232, "***"]]});
drawLtpBars({x0: 460, vals: ltp90min, errs: ltp90minErr, titleX: 525, titleBold: "90 min",
  sig: [["WT-Veh", "APP-Veh", 192, "***"], ["APP-Veh", "APP-BD10-2", 225, "***"]]});
label(22, 1252, "% LTP", 25, {anchor: "middle", rotate: -90});
</script>
</body>
</html>
